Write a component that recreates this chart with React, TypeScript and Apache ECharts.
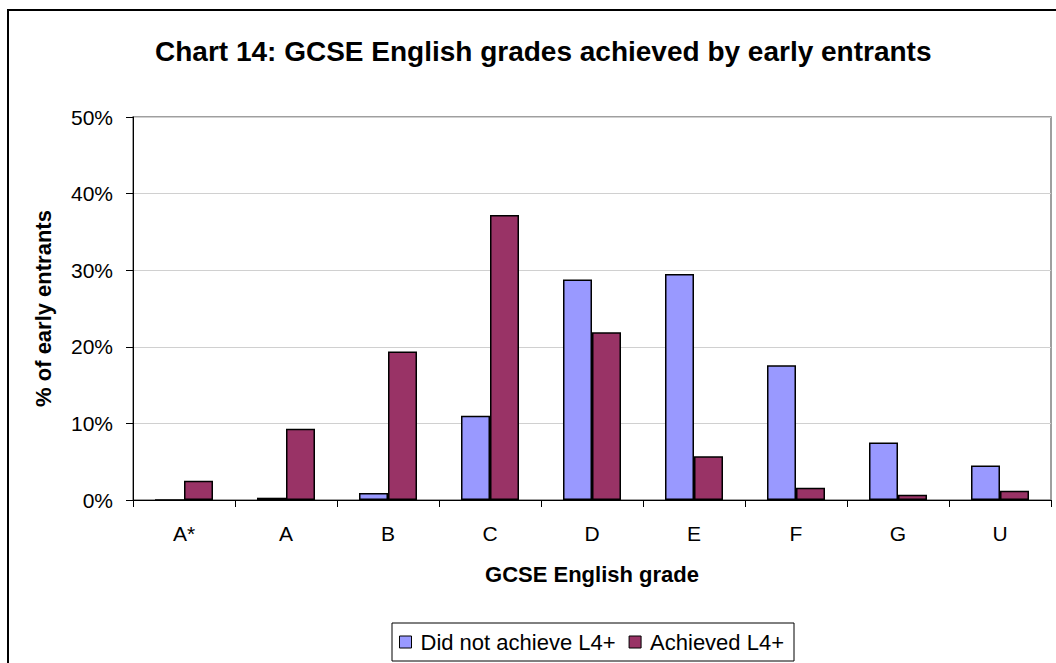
import React, { useEffect, useRef } from "react";
import * as echarts from "echarts";

const categories = ["A*", "A", "B", "C", "D", "E", "F", "G", "U"];
const didNotAchieve = [0, 0.3, 0.9, 11.0, 28.8, 29.5, 17.6, 7.5, 4.5];
const achieved = [2.5, 9.3, 19.4, 37.2, 21.9, 5.7, 1.6, 0.7, 1.2];
const seriesNames = ["Did not achieve L4+", "Achieved L4+"];
const yTicks = { min: 0, max: 50, interval: 10 };

const FONT = "'Liberation Sans', Arial, sans-serif";

export default function App() {
  const ref = useRef<HTMLDivElement>(null);
  useEffect(() => {
    if (!ref.current) return;
    const chart = echarts.init(ref.current, null, { renderer: "svg" });
    chart.setOption({
      animation: false,
      backgroundColor: "#ffffff",
      textStyle: { fontFamily: FONT },
      title: {
        text: "Chart 14: GCSE English grades achieved by early entrants",
        left: 150,
        top: 32,
        textStyle: { fontFamily: FONT, fontSize: 28, fontWeight: "bold", color: "#000" },
      },
      graphic: [
        {
          type: "rect",
          shape: { x: 8, y: 10, width: 1060, height: 670 },
          style: { fill: "none", stroke: "#000", lineWidth: 2 },
          silent: true,
          z: 100,
        },
      ],
      legend: {
        data: seriesNames,
        left: 392,
        top: 623,
        orient: "horizontal",
        icon: "rect",
        itemWidth: 12,
        itemHeight: 12,
        itemGap: 13,
        padding: [8, 10, 8, 7],
        borderColor: "#000",
        borderWidth: 1,
        textStyle: { fontFamily: FONT, fontSize: 22, color: "#000", padding: [0, 0, 0, 4] },
        itemStyle: { borderColor: "#000", borderWidth: 1 },
      },
      grid: {
        left: 133,
        right: 5,
        top: 117,
        bottom: 163,
        containLabel: false,
        show: true,
        borderColor: "#808080",
        borderWidth: 1.5,
      },
      xAxis: {
        type: "category",
        data: categories,
        name: "GCSE English grade",
        nameLocation: "middle",
        nameGap: 63,
        nameTextStyle: { fontFamily: FONT, fontSize: 22, fontWeight: "bold", color: "#000" },
        axisLine: { lineStyle: { color: "#000", width: 1 } },
        axisTick: { show: true, length: 7, lineStyle: { color: "#000" } },
        axisLabel: { fontFamily: FONT, fontSize: 21, color: "#000", margin: 23 },
      },
      yAxis: {
        type: "value",
        min: yTicks.min,
        max: yTicks.max,
        interval: yTicks.interval,
        name: "% of early entrants",
        nameLocation: "middle",
        nameGap: 79,
        nameTextStyle: { fontFamily: FONT, fontSize: 22, fontWeight: "bold", color: "#000" },
        axisLine: { show: true, lineStyle: { color: "#000", width: 1 } },
        axisTick: { show: true, length: 7, lineStyle: { color: "#000" } },
        axisLabel: { fontFamily: FONT, fontSize: 21, color: "#000", margin: 20, formatter: "{value}%" },
        splitLine: { show: true, lineStyle: { color: "#d0d0d0", width: 1 } },
      },
      series: [
        {
          name: seriesNames[0],
          type: "bar",
          data: didNotAchieve,
          barWidth: 29,
          barGap: "0%",
          itemStyle: { color: "#9999FF", borderColor: "#000", borderWidth: 1.5 },
        },
        {
          name: seriesNames[1],
          type: "bar",
          data: achieved,
          barWidth: 29,
          barGap: "0%",
          itemStyle: { color: "#993366", borderColor: "#000", borderWidth: 1.5 },
        },
      ],
    });
    return () => chart.dispose();
  }, []);
  return (
    <div
      ref={ref}
      style={{ position: "absolute", left: 0, top: 0, width: 1056, height: 663 }}
    />
  );
}
